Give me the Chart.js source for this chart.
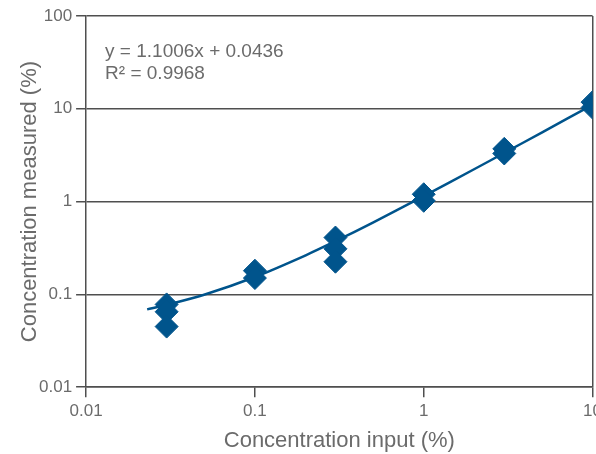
<!DOCTYPE html>
<html>
<head>
<meta charset="utf-8">
<script src="https://cdn.jsdelivr.net/npm/chart.js@4.4.1/dist/chart.umd.min.js"></script>
<style>
  html, body { margin: 0; padding: 0; background: #fff; overflow: hidden; width: 596px; height: 454px; }
  #wrap { position: absolute; left: 0; top: 0; width: 606px; height: 454px; }
</style>
</head>
<body>
<div id="wrap"><canvas id="c" width="606" height="454"></canvas></div>
<script>
// Measured points (input %, measured %)
const inputX    = [0.03, 0.03, 0.03, 0.1, 0.1, 0.3, 0.3, 0.3, 1, 1, 3, 3, 10, 10];
const measuredY = [0.078, 0.065, 0.045, 0.18, 0.15, 0.41, 0.31, 0.225, 1.2, 1.02, 3.7, 3.3, 11.8, 10.3];
// Trend line
const lineX = [0.023, 0.03, 0.05, 0.1, 0.2, 0.3, 0.5, 1, 2, 3, 5, 10];
const lineY = [0.069, 0.077, 0.099, 0.154, 0.264, 0.374, 0.594, 1.144, 2.245, 3.345, 5.546, 11.05];
// Axis ticks
const xTicks = [0.01, 0.1, 1, 10];
const yTicks = [0.01, 0.1, 1, 10, 100];
const equationText = 'y = 1.1006x + 0.0436';
const r2Text = 'R\u00B2 = 0.9968';

const BLUE = '#00548c';
const AXIS = '#4f4f4f';
const TEXT = '#6b6b6b';
const FONT = "'Liberation Sans', Arial, sans-serif";

const annotate = {
  id: 'annotate',
  afterDraw(chart) {
    const ctx = chart.ctx;
    const a = chart.chartArea;
    ctx.save();
    ctx.fillStyle = TEXT;
    ctx.font = '19px ' + FONT;
    ctx.textBaseline = 'middle';
    ctx.textAlign = 'left';
    ctx.fillText(equationText, a.left + 19, a.top + 36);
    ctx.fillText(r2Text, a.left + 19, a.top + 58);
    ctx.restore();
  }
};

new Chart(document.getElementById('c'), {
  type: 'scatter',
  data: {
    datasets: [
      {
        type: 'line',
        data: lineX.map((x, i) => ({ x, y: lineY[i] })),
        borderColor: BLUE,
        borderWidth: 2.5,
        pointRadius: 0,
        fill: false,
        tension: 0.3,
        order: 2
      },
      {
        data: inputX.map((x, i) => ({ x, y: measuredY[i] })),
        backgroundColor: BLUE,
        borderColor: BLUE,
        borderWidth: 1,
        pointStyle: 'rectRot',
        pointRadius: 11.5,
        pointHoverRadius: 11.5,
        order: 1
      }
    ]
  },
  options: {
    responsive: false,
    animation: false,
    devicePixelRatio: 1,
    layout: { padding: { top: 16, right: 0, left: 19, bottom: 0 } },
    plugins: { legend: { display: false }, tooltip: { enabled: false } },
    scales: {
      x: {
        type: 'logarithmic',
        min: 0.01, max: 10,
        afterBuildTicks: s => { s.ticks = xTicks.map(v => ({ value: v })); },
        ticks: {
          autoSkip: false, maxRotation: 0, padding: 4,
          color: TEXT, font: { family: FONT, size: 17 },
          callback: v => String(v)
        },
        grid: {
          drawTicks: true, tickLength: 10,
          color: c => (c.tick && c.tick.value === 10) ? AXIS : 'rgba(0,0,0,0)',
          tickColor: AXIS, tickWidth: 1.5, lineWidth: 1.5
        },
        border: { display: true, color: AXIS, width: 1.5 },
        title: {
          display: true, text: 'Concentration input (%)',
          color: TEXT, font: { family: FONT, size: 22 }, padding: { top: 2, bottom: 0 }
        }
      },
      y: {
        type: 'logarithmic',
        min: 0.01, max: 100,
        afterBuildTicks: s => { s.ticks = yTicks.map(v => ({ value: v })); },
        ticks: {
          autoSkip: false, padding: 4,
          color: TEXT, font: { family: FONT, size: 17 },
          callback: v => String(v)
        },
        grid: {
          drawTicks: true, tickLength: 10,
          color: AXIS, tickColor: AXIS, lineWidth: 1.5, tickWidth: 1.5
        },
        border: { display: true, color: AXIS, width: 1.5 },
        title: {
          display: true, text: 'Concentration measured (%)',
          color: TEXT, font: { family: FONT, size: 22, lineHeight: 1 }, padding: { top: 0, bottom: -6 }
        }
      }
    }
  },
  plugins: [annotate]
});
</script>
</body>
</html>
